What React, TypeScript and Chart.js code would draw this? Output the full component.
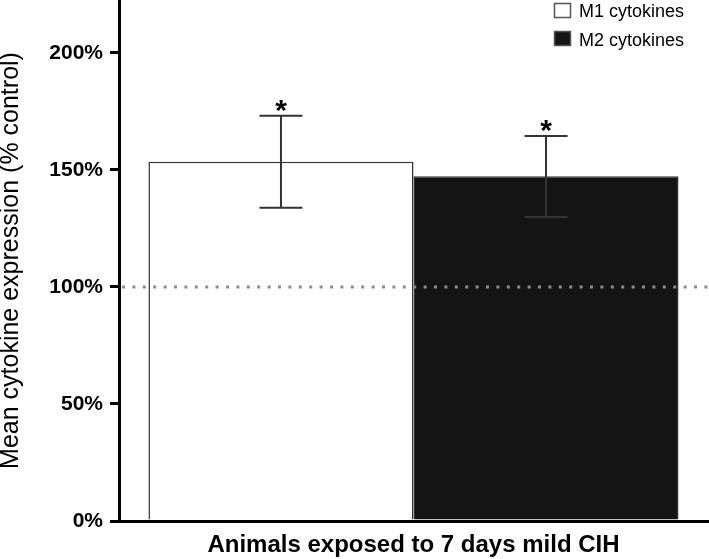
import React, { useEffect, useRef } from "react";
import { Chart, registerables } from "chart.js";

Chart.register(...registerables);

// ---- data ----
const categories = [""];
const xAxisTitle = "Animals exposed to 7 days mild CIH";
const yAxisTitle = "Mean cytokine expression (% control)";
const seriesNames = ["M1 cytokines", "M2 cytokines"];
const m1Values = [153.5];
const m2Values = [147.3];
const m1ErrLow = [133.8];
const m1ErrHigh = [173.1];
const m2ErrLow = [129.9];
const m2ErrHigh = [164.5];
const significance = ["*", "*"];
const yTicks = [0, 50, 100, 150, 200];
const yMax = 222.6;
const referenceLevel = 100;

const FONT = '"Liberation Sans", Arial, Helvetica, sans-serif';
const DARK = "#141414";

const errLows = [m1ErrLow, m2ErrLow];
const errHighs = [m1ErrHigh, m2ErrHigh];
const fills = ["#ffffff", DARK];

const overlayPlugin = {
  id: "overlay",
  afterDatasetsDraw(chart: any) {
    const ctx = chart.ctx;
    const y = chart.scales.y;
    const area = chart.chartArea;
    ctx.save();
    // reference dotted line
    const ry = y.getPixelForValue(referenceLevel);
    ctx.strokeStyle = "#8c8c8c";
    ctx.lineWidth = 3;
    ctx.setLineDash([3, 7.4]);
    ctx.beginPath();
    ctx.moveTo(area.left + 3, ry);
    ctx.lineTo(area.right, ry);
    ctx.stroke();
    ctx.setLineDash([]);

    // error bars + significance
    for (let d = 0; d < 2; d++) {
      const meta = chart.getDatasetMeta(d);
      meta.data.forEach((bar: any, i: number) => {
        const x = bar.x;
        const yLo = y.getPixelForValue(errLows[d][i]);
        const yHi = y.getPixelForValue(errHighs[d][i]);
        ctx.strokeStyle = "#333333";
        ctx.lineWidth = 2;
        ctx.beginPath();
        ctx.moveTo(x, yLo);
        ctx.lineTo(x, yHi);
        ctx.moveTo(x - 21.5, yHi);
        ctx.lineTo(x + 21.5, yHi);
        ctx.moveTo(x - 21.5, yLo);
        ctx.lineTo(x + 21.5, yLo);
        ctx.stroke();
        ctx.fillStyle = "#000";
        ctx.font = `bold 30px ${FONT}`;
        ctx.textAlign = "center";
        ctx.textBaseline = "alphabetic";
        ctx.fillText(significance[d], x, yHi + 4);
      });
    }

    // legend
    const boxX = 554.5;
    const boxYs = [3.5, 31.5];
    const baselines = [17, 46];
    for (let d = 0; d < 2; d++) {
      ctx.fillStyle = fills[d];
      ctx.fillRect(boxX, boxYs[d], 16, 14);
      ctx.strokeStyle = "#555";
      ctx.lineWidth = 1.5;
      ctx.strokeRect(boxX, boxYs[d], 16, 14);
      ctx.fillStyle = "#000";
      ctx.font = `18px ${FONT}`;
      ctx.textAlign = "left";
      ctx.textBaseline = "alphabetic";
      ctx.fillText(seriesNames[d], 579, baselines[d]);
    }
    ctx.restore();
  },
};

export default function App() {
  const ref = useRef<HTMLCanvasElement>(null);
  useEffect(() => {
    if (!ref.current) return;
    const chart = new Chart(ref.current, {
      type: "bar",
      data: {
        labels: categories,
        datasets: [
          {
            label: seriesNames[0],
            data: m1Values,
            backgroundColor: fills[0],
            borderColor: "#333",
            borderWidth: 1.5,
            barPercentage: 1,
            categoryPercentage: 0.9,
          },
          {
            label: seriesNames[1],
            data: m2Values,
            backgroundColor: fills[1],
            borderColor: "#333",
            borderWidth: 1.5,
            barPercentage: 1,
            categoryPercentage: 0.9,
          },
        ],
      },
      options: {
        animation: false,
        responsive: false,
        maintainAspectRatio: false,
        layout: { padding: { left: 0, top: 0, bottom: 0, right: 1 } },
        plugins: {
          legend: { display: false },
          tooltip: { enabled: false },
        },
        scales: {
          x: {
            grid: { display: false },
            border: { display: true, color: "#000", width: 3 },
            ticks: { display: false },
            title: {
              display: true,
              text: xAxisTitle,
              color: "#000",
              font: { family: FONT, size: 24, weight: "bold", lineHeight: 1 },
              padding: { top: 0, bottom: 2 },
            },
            afterFit: (s: any) => {
              s.height = 38;
              s.paddingLeft = 0;
              s.paddingRight = 0;
            },
          },
          y: {
            min: 0,
            max: yMax,
            afterBuildTicks: (s: any) => {
              s.ticks = yTicks.map((v) => ({ value: v }));
            },
            ticks: {
              callback: (v: any) => `${v}%`,
              color: "#000",
              font: { family: FONT, size: 21, weight: "bold" },
              padding: 7,
            },
            grid: {
              drawOnChartArea: false,
              drawTicks: true,
              tickLength: 9,
              color: "#000",
              lineWidth: 3,
            },
            border: { display: true, color: "#000", width: 3 },
            title: {
              display: true,
              text: yAxisTitle,
              color: "#000",
              font: { family: FONT, size: 25, weight: "normal", lineHeight: 1 },
              padding: { top: -1, bottom: 0 },
            },
            afterFit: (s: any) => {
              s.width = 119;
              s.paddingTop = 0;
              s.paddingBottom = 0;
            },
          },
        },
      } as any,
      plugins: [overlayPlugin],
    });
    return () => chart.destroy();
  }, []);
  return (
    <div style={{ position: "absolute", left: 0, top: 0, width: 709, height: 559, background: "#fff" }}>
      <canvas ref={ref} width={709} height={559} style={{ display: "block" }} />
    </div>
  );
}
